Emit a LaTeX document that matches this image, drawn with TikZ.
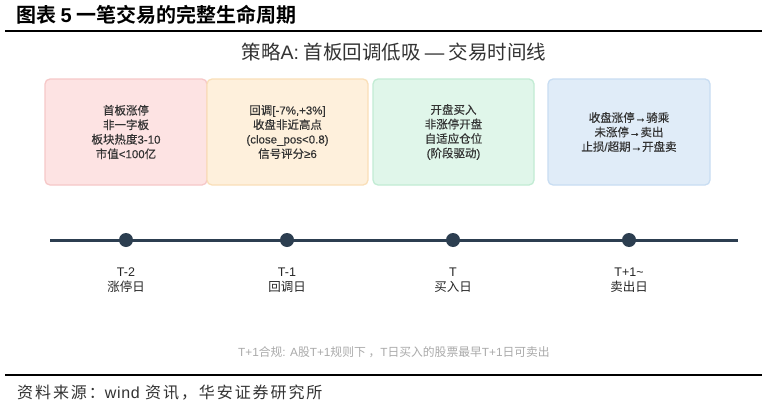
\documentclass[tikz,border=0pt]{standalone}
\usepackage{fontspec}
\setmainfont{Noto Sans CJK SC}[BoldFont={Noto Sans CJK SC Bold}]
\newfontfamily\lat{Liberation Sans}
\newfontfamily\latm{Liberation Sans}[FakeBold=0.3]
\newfontfamily\cjkm{Noto Sans CJK SC}[FakeBold=0.3]
\newfontfamily\srcfont{Noto Sans CJK SC}[LetterSpace=12]
\newfontfamily\srclat{Liberation Sans}[LetterSpace=4]
\definecolor{tl}{HTML}{2C3E50}
\definecolor{txt}{HTML}{333333}
\definecolor{fA}{HTML}{FDE3E3}\definecolor{dA}{HTML}{F6C8C8}
\definecolor{fB}{HTML}{FEF0DC}\definecolor{dB}{HTML}{FADFB8}
\definecolor{fC}{HTML}{E0F6EA}\definecolor{dC}{HTML}{C2ECD4}
\definecolor{fD}{HTML}{E0ECF8}\definecolor{dD}{HTML}{C8DDF2}
\definecolor{note}{HTML}{AAAAAA}
\tikzset{
  stagebox/.style={rounded corners=5pt, line width=1.3pt, minimum height=106pt, align=center,
    text=txt, font={\cjkm\let\lat\latm\fontsize{11.5}{14.5}\selectfont}},
  dot/.style={circle, fill=tl, minimum size=14pt, inner sep=0pt},
  daylabel/.style={align=center, text=black!85, font=\fontsize{12.5}{15}\selectfont},
  rule/.style={line width=1.5pt, black}
}
\begin{document}
\begin{tikzpicture}[x=1pt,y=-1pt]
\useasboundingbox[fill=white] (0,0) rectangle (767,404);
% header
\node[anchor=west, font=\fontsize{20}{22}\selectfont\bfseries, inner sep=0pt] (hdr) at (16,15) {图表 {\lat 5} 一笔交易的完整生命周期};
\coordinate (h1) at (5,31); \coordinate (h2) at (762,31);
\draw[rule] (h1) -- (h2);
% chart title
\node[text=txt, font=\fontsize{19.5}{21}\selectfont, inner sep=0pt] (ttl) at (394,52) {策略{\lat A:} 首板回调低吸 {\lat —} 交易时间线};
% boxes
\node[stagebox, fill=fA, draw=dA, minimum width=162pt] (b1) at (126,132) {首板涨停\\非一字板\\板块热度{\lat 3-10}\\市值{\lat <100}亿};
\node[stagebox, fill=fB, draw=dB, minimum width=161pt] (b2) at (287.5,132) {回调{\lat [-7\%,+3\%]}\\收盘非近高点\\{\lat (close\_pos<0.8)}\\信号评分{\lat ≥6}};
\node[stagebox, fill=fC, draw=dC, minimum width=161pt] (b3) at (453.5,132) {开盘买入\\非涨停开盘\\自适应仓位\\{\lat (}阶段驱动{\lat )}};
\node[stagebox, fill=fD, draw=dD, minimum width=162pt] (b4) at (629,132) {收盘涨停{\lat →}骑乘\\未涨停{\lat →}卖出\\止损{\lat /}超期{\lat →}开盘卖};
% timeline
\coordinate (L) at (50,240); \coordinate (R) at (738,240);
\draw[tl, line width=3pt] (L) -- (R);
\node[dot] (d1) at (126,240) {};
\node[dot] (d2) at (287,240) {};
\node[dot] (d3) at (453,240) {};
\node[dot] (d4) at (629,240) {};
\node[daylabel] (l1) at (126,280.5) {{\lat T-2}\\涨停日};
\node[daylabel] (l2) at (287,280.5) {{\lat T-1}\\回调日};
\node[daylabel] (l3) at (453,280.5) {{\lat T}\\买入日};
\node[daylabel] (l4) at (629,280.5) {{\lat T+1\textasciitilde}\\卖出日};
% note
\node[text=note, font=\fontsize{11.8}{13}\selectfont, inner sep=0pt] (nt) at (394,352) {{\lat T+1}合规{\lat : A}股{\lat T+1}规则下 ，{\lat T}日买入的股票最早{\lat T+1}日可卖出};
% footer
\coordinate (f1) at (5,375); \coordinate (f2) at (762,375);
\draw[rule] (f1) -- (f2);
\node[anchor=west, text=txt, font=\fontsize{16}{18}\selectfont, inner sep=0pt] (src) at (17,393) {\srcfont 资料来源：{\srclat wind} 资讯，华安证券研究所};
\end{tikzpicture}
\end{document}
